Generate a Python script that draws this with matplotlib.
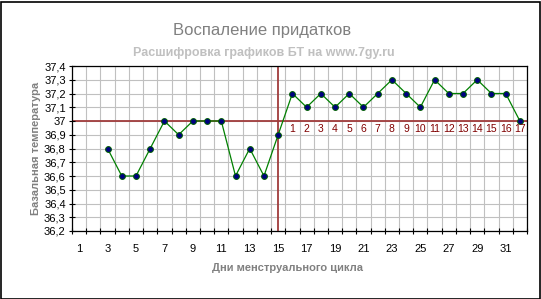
import matplotlib
matplotlib.use("Agg")
import matplotlib.pyplot as plt
import numpy as np

plt.rcParams['font.family'] = ['Liberation Sans', 'DejaVu Sans']

days = list(range(3, 33))
temps = [36.8, 36.6, 36.6, 36.8, 37.0, 36.9, 37.0, 37.0, 37.0, 36.6, 36.8, 36.6, 36.9,
         37.2, 37.1, 37.2, 37.1, 37.2, 37.1, 37.2, 37.3, 37.2, 37.1, 37.3, 37.2, 37.2,
         37.3, 37.2, 37.2, 37.0]
categories = list(range(1, 33))
x_tick_labels = [str(c) for c in categories[::2]]
y_ticks = [36.2, 36.3, 36.4, 36.5, 36.6, 36.7, 36.8, 36.9, 37.0, 37.1, 37.2, 37.3, 37.4]
y_tick_labels = ['36,2', '36,3', '36,4', '36,5', '36,6', '36,7', '36,8', '36,9', '37',
                 '37,1', '37,2', '37,3', '37,4']
coverline = 37.0
ovulation_day = 15
phase_days = list(range(16, 33))
phase_labels = [str(i) for i in range(1, 18)]

title = 'Воспаление придатков'
subtitle = 'Расшифровка графиков БТ на www.7gy.ru'
xlabel = 'Дни менструального цикла'
ylabel = 'Базальная температура'

W, H = 541, 299
fig = plt.figure(figsize=(W / 100, H / 100), dpi=100)
fig.patch.set_facecolor('white')

# outer border
fig.add_artist(plt.Rectangle((0.5 / W, 0.5 / H), 1 - 2 / W, 1 - 2 / H, transform=fig.transFigure,
                             fill=False, edgecolor='black', lw=1.2))

left, right, top, bottom = 72, 527, 66, 231
ax = fig.add_axes([left / W, 1 - bottom / H, (right - left) / W, (bottom - top) / H])

ax.set_xlim(0.5, 32.5)
ax.set_ylim(36.2, 37.4)

# grid
for xv in np.arange(0.5, 33, 1.0):
    ax.axvline(xv, color='#c0c0c0', lw=0.8, zorder=0)
for yv in y_ticks:
    ax.axhline(yv, color='#c0c0c0', lw=0.8, zorder=0)

# red lines
ax.axhline(coverline, color='#a03c3c', lw=1.3, zorder=1)
ax.axvline(ovulation_day, color='#a03c3c', lw=1.3, zorder=1)

ax.plot(days, temps, color='#008000', lw=0.9, zorder=2)
ax.plot(days, temps, linestyle='none', marker='o', markersize=4.2, markerfacecolor='#000080',
        markeredgecolor='#006000', markeredgewidth=0.7, zorder=3)

for d, lab in zip(phase_days, phase_labels):
    ax.text(d, coverline - 0.055, lab, color='#800000', fontsize=7.5, ha='center', va='center',
            zorder=4)

# ticks
ax.set_xticks(np.arange(0.5, 33, 1.0), minor=True)
ax.set_xticks(categories[::2])
ax.set_xticklabels(x_tick_labels, fontsize=8)
ax.tick_params(axis='x', which='major', length=0, pad=9)
ax.tick_params(axis='x', which='minor', length=5, direction='inout', width=0.8)
ax.set_yticks(y_ticks)
ax.set_yticklabels(y_tick_labels, fontsize=8)
ax.tick_params(axis='y', length=5, direction='inout', width=0.8, pad=2)

for s in ax.spines.values():
    s.set_color('black')
    s.set_linewidth(0.9)

fig.text(262 / W, 1 - 30 / H, title, ha='center', va='center', fontsize=12, color='#808080')
fig.text(264 / W, 1 - 53 / H, subtitle, ha='center', va='center', fontsize=9, color='#c0c0c0',
         fontweight='bold')
fig.text(288 / W, 1 - 268 / H, xlabel, ha='center', va='center', fontsize=8,
         color='#808080', fontweight='bold')
fig.text(36 / W, 1 - (top + bottom) / 2 / H, ylabel, ha='center', va='center', rotation=90,
         fontsize=8, color='#808080', fontweight='bold')

fig.savefig('out.png', dpi=100)
